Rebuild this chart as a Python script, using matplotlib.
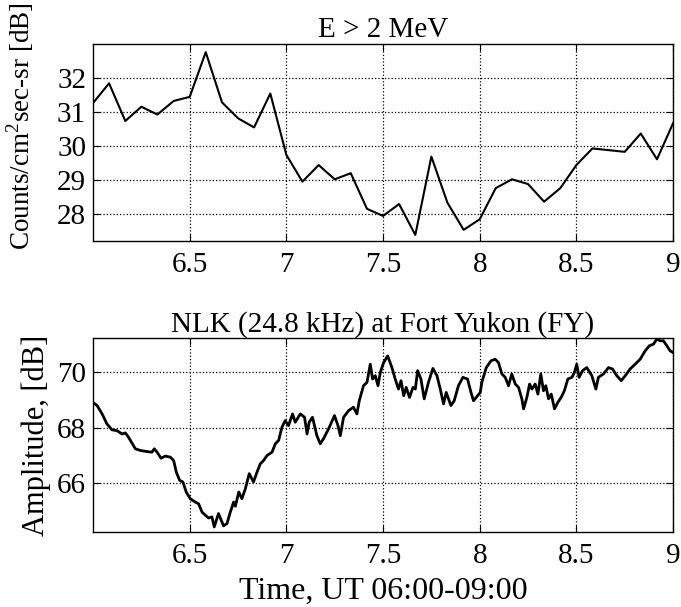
import numpy as np
import matplotlib
matplotlib.use("Agg")
import matplotlib.pyplot as plt

plt.rcParams['font.family'] = ['Liberation Serif', 'DejaVu Serif']
plt.rcParams['mathtext.fontset'] = 'custom'
plt.rcParams['mathtext.rm'] = 'Liberation Serif'

# electron flux, E > 2 MeV, 5 minute samples
flux_t = [6.0, 6.083, 6.167, 6.25, 6.333, 6.417, 6.5, 6.583, 6.667, 6.75,
          6.833, 6.917, 7.0, 7.083, 7.167, 7.25, 7.333, 7.417, 7.5, 7.583,
          7.667, 7.75, 7.833, 7.917, 8.0, 8.083, 8.167, 8.25, 8.333, 8.417,
          8.5, 8.583, 8.667, 8.75, 8.833, 8.917, 9.0]
flux_db = [31.26, 31.84, 30.73, 31.15, 30.92, 31.32, 31.44, 32.76, 31.28, 30.81,
           30.54, 31.54, 29.73, 28.94, 29.43, 29.01, 29.19, 28.14, 27.93, 28.28,
           27.37, 29.68, 28.32, 27.52, 27.83, 28.75, 29.01, 28.87, 28.35, 28.75,
           29.43, 29.92, 29.87, 29.82, 30.36, 29.60, 30.66]

# NLK amplitude at Fort Yukon
nlk_t = [6.000, 6.021, 6.047, 6.072, 6.098, 6.124, 6.150, 6.167, 6.184, 6.219,
         6.245, 6.279, 6.305, 6.317, 6.331, 6.352, 6.374, 6.400, 6.417, 6.431,
         6.448, 6.465, 6.482, 6.503, 6.529, 6.546, 6.564, 6.581, 6.598, 6.615,
         6.627, 6.649, 6.675, 6.693, 6.710, 6.727, 6.736, 6.754, 6.770, 6.788,
         6.808, 6.830, 6.848, 6.865, 6.882, 6.900, 6.926, 6.943, 6.960, 6.977,
         6.994, 7.011, 7.032, 7.046, 7.072, 7.094, 7.107, 7.118, 7.135, 7.158,
         7.175, 7.192, 7.218, 7.249, 7.267, 7.279, 7.296, 7.322, 7.347, 7.365,
         7.377, 7.399, 7.417, 7.434, 7.446, 7.460, 7.474, 7.486, 7.503, 7.524,
         7.546, 7.563, 7.580, 7.593, 7.607, 7.620, 7.637, 7.655, 7.667, 7.679,
         7.696, 7.713, 7.735, 7.758, 7.779, 7.796, 7.813, 7.827, 7.851, 7.868,
         7.890, 7.913, 7.937, 7.955, 7.968, 7.989, 8.003, 8.011, 8.034, 8.058,
         8.080, 8.097, 8.115, 8.132, 8.149, 8.166, 8.184, 8.201, 8.218, 8.227,
         8.244, 8.258, 8.270, 8.287, 8.301, 8.316, 8.330, 8.342, 8.356, 8.370,
         8.387, 8.404, 8.421, 8.438, 8.456, 8.477, 8.490, 8.502, 8.514, 8.532,
         8.554, 8.580, 8.601, 8.614, 8.640, 8.666, 8.687, 8.709, 8.732, 8.753,
         8.778, 8.804, 8.830, 8.856, 8.877, 8.899, 8.916, 8.933, 8.950, 8.968,
         8.985, 9.000]
nlk_db = [68.90, 68.79, 68.49, 68.13, 67.92, 67.89, 67.77, 67.81, 67.65, 67.24,
          67.18, 67.14, 67.12, 67.24, 67.12, 66.90, 66.98, 66.94, 66.82, 66.40,
          66.11, 66.05, 65.69, 65.45, 65.33, 65.27, 64.97, 64.86, 64.76, 64.80,
          64.44, 64.92, 64.48, 64.56, 64.97, 65.33, 65.18, 65.69, 65.45, 65.81,
          66.35, 66.05, 66.40, 66.70, 66.82, 67.00, 67.12, 67.42, 67.54, 68.01,
          68.25, 68.07, 68.49, 68.19, 68.49, 68.37, 67.77, 68.19, 68.37, 67.71,
          67.42, 67.60, 67.95, 68.43, 68.07, 67.71, 68.37, 68.61, 68.73, 68.49,
          68.96, 69.50, 69.62, 70.27, 69.74, 69.86, 69.50, 69.98, 70.33, 70.57,
          70.15, 69.74, 69.38, 69.68, 69.14, 69.44, 69.08, 69.44, 69.38, 70.04,
          69.74, 69.03, 69.62, 70.12, 69.86, 69.38, 68.85, 69.26, 68.79, 68.96,
          69.50, 69.80, 69.74, 69.26, 68.96, 69.14, 69.26, 69.62, 70.15, 70.39,
          70.45, 70.33, 69.92, 69.80, 69.50, 69.92, 69.56, 69.44, 69.03, 68.67,
          69.08, 69.56, 69.38, 69.56, 69.20, 69.92, 69.32, 69.50, 69.03, 69.20,
          68.67, 68.90, 69.08, 69.32, 69.74, 69.80, 69.98, 70.27, 69.80, 70.04,
          70.15, 69.86, 69.38, 69.80, 69.92, 70.15, 70.10, 69.86, 69.68, 69.86,
          70.10, 70.27, 70.45, 70.75, 70.93, 70.99, 71.17, 71.11, 71.11, 70.93,
          70.75, 70.69]

xticks = [6.5, 7, 7.5, 8, 8.5, 9]
xticklabels = ['6.5', '7', '7.5', '8', '8.5', '9']
fs = 21


def style(ax):
    ax.set_xlim(6.0, 9.0)
    ax.set_xticks(xticks)
    ax.set_xticklabels(xticklabels)
    ax.grid(True, linestyle=':', color='black', linewidth=0.9)
    ax.tick_params(direction='in', top=True, right=True, length=5,
                   labelsize=fs, width=0.8, pad=5)
    ax.tick_params(axis='x', pad=8)
    for s in ax.spines.values():
        s.set_linewidth(1.0)


fig = plt.figure(figsize=(6.81, 6.07), dpi=100)

ax1 = fig.add_axes([0.1366, 0.6035, 0.8517, 0.3240])
ax1.plot(flux_t, flux_db, color='black', linewidth=1.5)
style(ax1)
ax1.set_ylim(27.2, 33.0)
ax1.set_yticks([28, 29, 30, 31, 32])
ax1.set_title('E > 2 MeV', fontsize=fs, pad=5)
ax1.set_ylabel(r'Counts/cm$^{\mathregular{2}}$sec-sr [dB]', fontsize=19.5)
ax1.yaxis.set_label_coords(-0.098, 0.58)

ax2 = fig.add_axes([0.1366, 0.1241, 0.8517, 0.3186])
ax2.plot(nlk_t, nlk_db, color='black', linewidth=2.0)
style(ax2)
ax2.set_ylim(64.27, 71.2)
ax2.set_yticks([66, 68, 70])
ax2.set_title('NLK (24.8 kHz) at Fort Yukon (FY)', fontsize=fs, pad=5)
ax2.set_ylabel('Amplitude, [dB]', fontsize=22)
ax2.yaxis.set_label_coords(-0.073, 0.5)
ax2.set_xlabel('Time, UT 06:00-09:00', fontsize=23, labelpad=6)

fig.savefig('out.png', dpi=100)
